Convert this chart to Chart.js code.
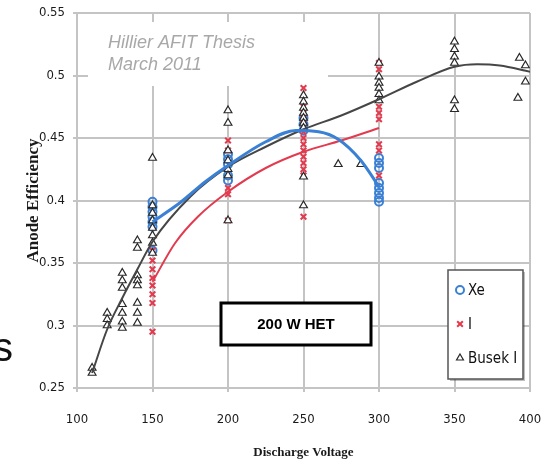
<!DOCTYPE html>
<html>
<head>
<meta charset="utf-8">
<script src="https://cdn.jsdelivr.net/npm/chart.js@4.4.1/dist/chart.umd.min.js"></script>
<style>
  html, body { margin: 0; padding: 0; background: #fff; }
</style>
</head>
<body>
<canvas id="effChart" width="546" height="464"></canvas>
<script>
// Series names (legend order)
const seriesNames = ['Xe', 'I', 'Busek I'];

// Xe measurements
const xeVoltage = [150, 150, 150, 150, 150, 150, 150,
                   200, 200, 200, 200, 200,
                   250, 250, 250,
                   300, 300, 300, 300, 300, 300, 300, 300];
const xeEff = [0.399, 0.395, 0.391, 0.387, 0.383, 0.379, 0.360,
               0.437, 0.433, 0.429, 0.420, 0.416,
               0.466, 0.461, 0.456,
               0.434, 0.430, 0.426, 0.414, 0.410, 0.406, 0.402, 0.399];

// Iodine measurements
const iVoltage = [150, 150, 150, 150, 150, 150, 150, 150,
                  200, 200, 200, 200, 200,
                  250, 250, 250, 250, 250, 250, 250, 250, 250, 250, 250, 250, 250, 250,
                  300, 300, 300, 300, 300, 300, 300, 300];
const iEff = [0.360, 0.352, 0.345, 0.338, 0.332, 0.325, 0.318, 0.295,
              0.448, 0.440, 0.410, 0.405, 0.384,
              0.490, 0.475, 0.470, 0.465, 0.460, 0.455, 0.450, 0.445, 0.440, 0.435, 0.430, 0.425, 0.420, 0.387,
              0.510, 0.505, 0.475, 0.470, 0.465, 0.445, 0.440, 0.420];

// Busek iodine measurements
const busekVoltage = [110, 110,
                      120, 120, 120,
                      130, 130, 130, 130, 130, 130, 130,
                      140, 140, 140, 140, 140, 140, 140, 140,
                      150, 150, 150, 150, 150, 150, 150, 150,
                      200, 200, 200, 200, 200, 200, 200,
                      250, 250, 250, 250, 250, 250, 250, 250, 250,
                      273, 288,
                      300, 300, 300, 300, 300, 300,
                      350, 350, 350, 350, 350, 350,
                      393, 397, 397, 392];
const busekEff = [0.266, 0.262,
                  0.310, 0.305, 0.300,
                  0.342, 0.336, 0.330, 0.317, 0.310, 0.303, 0.298,
                  0.368, 0.362, 0.340, 0.336, 0.332, 0.318, 0.310, 0.302,
                  0.434, 0.396, 0.390, 0.384, 0.378, 0.372, 0.366, 0.358,
                  0.472, 0.462, 0.440, 0.432, 0.425, 0.420, 0.384,
                  0.484, 0.479, 0.474, 0.470, 0.466, 0.462, 0.458, 0.419, 0.396,
                  0.429, 0.429,
                  0.510, 0.499, 0.494, 0.490, 0.485, 0.480,
                  0.527, 0.521, 0.515, 0.510, 0.480, 0.473,
                  0.514, 0.508, 0.495, 0.482];

// Trend lines
const xeFitVoltage = [150, 168, 185, 200, 225, 245, 260, 273, 288, 300];
const xeFitEff = [0.383, 0.398, 0.415, 0.428, 0.447, 0.456, 0.455, 0.449, 0.432, 0.411];
const iFitVoltage = [150, 165, 180, 200, 225, 250, 275, 300];
const iFitEff = [0.335, 0.366, 0.387, 0.407, 0.426, 0.439, 0.448, 0.458];
const busekFitVoltage = [110, 120, 130, 140, 150, 175, 200, 225, 250, 275, 300, 325, 350, 365, 380, 400];
const busekFitEff = [0.262, 0.297, 0.322, 0.345, 0.367, 0.403, 0.427, 0.443, 0.457, 0.468, 0.481, 0.495, 0.507, 0.509, 0.508, 0.503];

// Labels and notes
const xTitle = 'Discharge Voltage';
const yTitle = 'Anode Efficiency';
const stampLines = ['Hillier AFIT Thesis', 'March 2011'];
const boxNote = '200 W HET';

const XE_BLUE = 'rgb(58, 128, 212)';
const I_RED = 'rgb(226, 58, 78)';
const BUSEK_BLACK = 'rgb(40, 40, 40)';
const GRID = 'rgb(196, 196, 196)';
const narrowFont = "'Liberation Sans Narrow', 'DejaVu Sans Condensed', 'DejaVu Sans', sans-serif";
const serifFont = "'Liberation Serif', 'DejaVu Serif', serif";

const toPoints = (xs, ys) => xs.map((x, i) => ({x, y: ys[i]}));

// Stamp, note box, legend and the cut-off letter at the left edge
const overlayPlugin = {
    id: 'overlay',
    beforeDatasetsDraw(chart) {
        const ctx = chart.ctx;
        ctx.save();
        ctx.fillStyle = '#fff';
        ctx.fillRect(88, 22, 240, 64);
        ctx.fillStyle = '#a8a8a8';
        ctx.font = 'italic 18px "Liberation Sans", Arial, sans-serif';
        ctx.fillText(stampLines[0], 108, 48);
        ctx.fillText(stampLines[1], 108, 70);
        ctx.restore();
    },
    afterDraw(chart) {
        const ctx = chart.ctx;
        ctx.save();

        // 200 W HET box
        ctx.fillStyle = '#fff';
        ctx.fillRect(221, 303, 150, 42);
        ctx.strokeStyle = '#000';
        ctx.lineWidth = 3;
        ctx.strokeRect(221, 303, 150, 42);
        ctx.fillStyle = '#000';
        ctx.font = 'bold 15px "Liberation Sans", Arial, sans-serif';
        ctx.textAlign = 'center';
        ctx.textBaseline = 'middle';
        ctx.fillText(boxNote, 296, 325);

        // legend box
        ctx.fillStyle = 'rgba(0,0,0,0.25)';
        ctx.fillRect(450, 272, 75, 109);
        ctx.fillStyle = '#fff';
        ctx.fillRect(448, 270, 75, 109);
        ctx.strokeStyle = '#555';
        ctx.lineWidth = 1.5;
        ctx.strokeRect(448, 270, 75, 109);

        const rows = [
            {y: 290, style: 'circle', color: XE_BLUE, fill: 'rgba(0,0,0,0)', r: 4, bw: 2},
            {y: 324, style: 'crossRot', color: I_RED, fill: I_RED, r: 4, bw: 2},
            {y: 358, style: 'triangle', color: BUSEK_BLACK, fill: '#fff', r: 4, bw: 1.2},
        ];
        ctx.textAlign = 'left';
        ctx.textBaseline = 'middle';
        ctx.font = '15px ' + narrowFont;
        rows.forEach((row, i) => {
            ctx.strokeStyle = row.color;
            ctx.fillStyle = row.fill;
            ctx.lineWidth = row.bw;
            Chart.helpers.drawPoint(ctx, {pointStyle: row.style, radius: row.r, borderWidth: row.bw, rotation: 0}, 460, row.y);
            ctx.fillStyle = '#111';
            ctx.fillText(seriesNames[i], 468, row.y + 1);
        });

        // fragment of a letter cut by the left edge
        ctx.fillStyle = '#111';
        ctx.font = '40px "Liberation Sans", Arial, sans-serif';
        ctx.textAlign = 'left';
        ctx.textBaseline = 'alphabetic';
        ctx.fillText('s', -7, 361);

        ctx.restore();
    },
};

const ctx = document.getElementById('effChart').getContext('2d');

new Chart(ctx, {
    type: 'scatter',
    data: {
        datasets: [
            {
                label: seriesNames[0] + ' fit',
                data: toPoints(xeFitVoltage, xeFitEff),
                showLine: true,
                borderColor: XE_BLUE,
                borderWidth: 3,
                pointRadius: 0,
                cubicInterpolationMode: 'monotone',
            },
            {
                label: seriesNames[1] + ' fit',
                data: toPoints(iFitVoltage, iFitEff),
                showLine: true,
                borderColor: I_RED,
                borderWidth: 2,
                pointRadius: 0,
                cubicInterpolationMode: 'monotone',
            },
            {
                label: seriesNames[2] + ' fit',
                data: toPoints(busekFitVoltage, busekFitEff),
                showLine: true,
                borderColor: 'rgb(70, 70, 70)',
                borderWidth: 2,
                pointRadius: 0,
                cubicInterpolationMode: 'monotone',
            },
            {
                label: seriesNames[2],
                data: toPoints(busekVoltage, busekEff),
                pointStyle: 'triangle',
                pointRadius: 4.5,
                borderWidth: 1.2,
                borderColor: BUSEK_BLACK,
                backgroundColor: '#fff',
            },
            {
                label: seriesNames[1],
                data: toPoints(iVoltage, iEff),
                pointStyle: 'crossRot',
                pointRadius: 4,
                borderWidth: 2,
                borderColor: I_RED,
                backgroundColor: I_RED,
            },
            {
                label: seriesNames[0],
                data: toPoints(xeVoltage, xeEff),
                pointStyle: 'circle',
                pointRadius: 4,
                borderWidth: 2,
                borderColor: XE_BLUE,
                backgroundColor: 'rgba(0,0,0,0)',
            },
        ],
    },
    options: {
        responsive: false,
        animation: false,
        layout: {padding: {top: 13, right: 16, left: 0, bottom: 0}},
        plugins: {
            legend: {display: false},
            tooltip: {enabled: false},
        },
        scales: {
            x: {
                type: 'linear',
                min: 100,
                max: 400,
                afterFit: (scale) => {
                    scale.height = 76;
                    // keep the label padding from shrinking the plot area
                    scale.paddingLeft = 0;
                    scale.paddingRight = 0;
                },
                ticks: {
                    stepSize: 50,
                    padding: 20,
                    color: '#1a1a1a',
                    font: {family: narrowFont, size: 13},
                },
                grid: {color: GRID, lineWidth: 2, tickLength: 4},
                border: {color: GRID, width: 2},
                title: {
                    display: true,
                    text: xTitle,
                    color: '#1a1a1a',
                    font: {family: serifFont, size: 13, weight: 'bold'},
                    padding: {top: 0, bottom: 4},
                },
            },
            y: {
                min: 0.25,
                max: 0.55,
                afterFit: (scale) => {
                    scale.width = 77;
                    scale.paddingTop = 0;
                    scale.paddingBottom = 0;
                },
                ticks: {
                    stepSize: 0.05,
                    padding: 8,
                    color: '#1a1a1a',
                    font: {family: narrowFont, size: 13},
                    callback: (v) => String(Math.round(v * 100) / 100),
                },
                grid: {color: GRID, lineWidth: 2, tickLength: 4},
                border: {color: GRID, width: 2},
                title: {
                    display: true,
                    text: yTitle,
                    color: '#1a1a1a',
                    font: {family: serifFont, size: 17, weight: 'bold'},
                    padding: {top: 23, bottom: 0},
                },
            },
        },
    },
    plugins: [overlayPlugin],
});
</script>
</body>
</html>
